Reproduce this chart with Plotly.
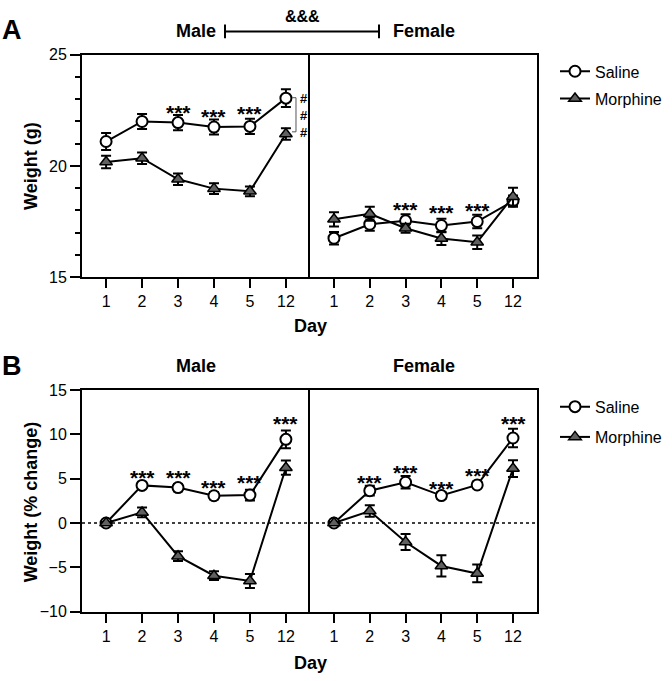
import plotly.graph_objects as go

W, H = 672, 681
FONT = "Liberation Sans, Arial, sans-serif"

days = ["1", "2", "3", "4", "5", "12"]

# ---- Panel A: body weight (g) ----
male_sal_w = [21.1, 22.0, 21.95, 21.75, 21.78, 23.05]
male_sal_w_err = [0.38, 0.34, 0.34, 0.34, 0.34, 0.4]
male_mor_w = [20.18, 20.35, 19.4, 18.98, 18.86, 21.44]
male_mor_w_err = [0.28, 0.26, 0.26, 0.24, 0.22, 0.26]
fem_sal_w = [16.75, 17.38, 17.53, 17.32, 17.5, 18.42]
fem_sal_w_err = [0.28, 0.3, 0.3, 0.3, 0.3, 0.25]
fem_mor_w = [17.6, 17.85, 17.2, 16.74, 16.57, 18.62]
fem_mor_w_err = [0.32, 0.32, 0.2, 0.3, 0.3, 0.4]

# ---- Panel B: weight (% change) ----
male_sal_p = [0.0, 4.25, 4.0, 3.08, 3.15, 9.45]
male_sal_p_err = [0.1, 0.35, 0.4, 0.4, 0.6, 1.0]
male_mor_p = [0.0, 1.2, -3.75, -5.95, -6.55, 6.25]
male_mor_p_err = [0.1, 0.55, 0.55, 0.5, 0.8, 0.8]
fem_sal_p = [0.0, 3.65, 4.6, 3.1, 4.3, 9.6]
fem_sal_p_err = [0.1, 0.55, 0.7, 0.4, 0.35, 1.05]
fem_mor_p = [0.0, 1.35, -2.15, -4.85, -5.7, 6.15]
fem_mor_p_err = [0.1, 0.65, 0.9, 1.2, 1.0, 0.95]

# significance marks (day, height of mark)
stars_A_male_days = ["3", "4", "5"]
stars_A_male_y = [22.64, 22.47, 22.59]
stars_A_fem_days = ["3", "4", "5"]
stars_A_fem_y = [18.26, 18.11, 18.2]
stars_B_male_days = ["2", "3", "4", "5", "12"]
stars_B_male_y = [5.73, 5.73, 4.63, 5.1, 11.78]
stars_B_fem_days = ["2", "3", "4", "5", "12"]
stars_B_fem_y = [5.1, 6.28, 4.44, 5.95, 11.78]


def px(x):
    return x / W


def py(y):
    return 1 - y / H


SAL = dict(symbol="circle", size=11, color="white", line=dict(color="black", width=2))
MOR = dict(symbol="triangle-up", size=11, color="#606060", line=dict(color="black", width=1.5))
LINE = dict(color="black", width=2)

fig = go.Figure()


def add(xa, ya, y, err, marker):
    fig.add_trace(go.Scatter(
        x=days, y=y, xaxis=xa, yaxis=ya, mode="lines+markers",
        line=LINE, marker=marker, showlegend=False,
        error_y=dict(type="data", array=err, visible=True, color="black", thickness=2, width=5),
    ))


add("x", "y", male_sal_w, male_sal_w_err, SAL)
add("x", "y", male_mor_w, male_mor_w_err, MOR)
add("x2", "y2", fem_sal_w, fem_sal_w_err, SAL)
add("x2", "y2", fem_mor_w, fem_mor_w_err, MOR)
add("x3", "y3", male_sal_p, male_sal_p_err, SAL)
add("x3", "y3", male_mor_p, male_mor_p_err, MOR)
add("x4", "y4", fem_sal_p, fem_sal_p_err, SAL)
add("x4", "y4", fem_mor_p, fem_mor_p_err, MOR)

# legend entries: one legend per entry for exact placement
legend_rows = [("legend", "Saline", SAL, 65), ("legend2", "Morphine", MOR, 93),
               ("legend3", "Saline", SAL, 409), ("legend4", "Morphine", MOR, 440)]
for lg, name, mk, _ in legend_rows:
    fig.add_trace(go.Scatter(x=[None], y=[None], xaxis="x", yaxis="y", mode="lines+markers",
                             line=LINE, marker=mk, name=name, legend=lg))

xA1 = [px(82), px(310)]
xA2 = [px(310), px(537)]
yA = [py(276), py(48)]
yB = [py(619), py(392)]

xcommon = dict(type="category", categoryorder="array", categoryarray=days,
               range=[-0.67, 5.67], showline=True, linewidth=2, linecolor="black",
               mirror=True, ticks="outside", ticklen=9, tickwidth=2, tickcolor="black",
               showgrid=False, zeroline=False, tickfont=dict(size=16, color="black"),
               fixedrange=True)
ycommon = dict(showline=True, linewidth=2, linecolor="black",
               showgrid=False, zeroline=False, fixedrange=True,
               tickfont=dict(size=16, color="black"))

layout = dict(
    width=W, height=H, margin=dict(l=0, r=0, t=0, b=0),
    paper_bgcolor="white", plot_bgcolor="white",
    font=dict(family=FONT, color="black"),
    xaxis=dict(domain=xA1, anchor="y", **xcommon),
    xaxis2=dict(domain=xA2, anchor="y2", **xcommon),
    xaxis3=dict(domain=xA1, anchor="y3", **xcommon),
    xaxis4=dict(domain=xA2, anchor="y4", **xcommon),
    yaxis=dict(domain=yA, anchor="x", range=[15, 25], tickvals=[15, 20, 25], mirror=False,
               ticks="outside", ticklen=10, tickwidth=2, tickcolor="black",
               minor=dict(dtick=1, tick0=15, ticks="outside", ticklen=5, tickwidth=2,
                          tickcolor="black"),
               **ycommon),
    yaxis2=dict(domain=yA, anchor="x2", range=[15, 25], showticklabels=False, ticks="",
                mirror=True, **ycommon),
    yaxis3=dict(domain=yB, anchor="x3", range=[-10, 15], tickvals=[-10, -5, 0, 5, 10, 15],
                mirror=False, ticks="outside", ticklen=10, tickwidth=2, tickcolor="black",
                **ycommon),
    yaxis4=dict(domain=yB, anchor="x4", range=[-10, 15], showticklabels=False, ticks="",
                mirror=True, **ycommon),
)
for lg, _, _, yc in legend_rows:
    layout[lg] = dict(x=px(555), y=py(yc), xanchor="left", yanchor="middle",
                      font=dict(size=16, color="black"), bgcolor="rgba(0,0,0,0)",
                      itemwidth=30)
fig.update_layout(**layout)

ann = []


def text(x, y, t, size, bold=True, **kw):
    ann.append(dict(x=px(x), y=py(y), xref="paper", yref="paper",
                    text=("<b>%s</b>" % t) if bold else t,
                    xanchor="center", yanchor="middle",
                    showarrow=False, font=dict(size=size, color="black", family=FONT), **kw))


text(12, 23, "A", 27)
text(12, 367, "B", 27)
text(196, 24, "Male", 18)
text(424, 24, "Female", 18)
text(302, 9, "&&&", 16)
text(196, 367, "Male", 18)
text(424, 367, "Female", 18)
text(310, 326, "Day", 18)
text(310, 672, "Day", 18)
text(31, 162, "Weight (g)", 18, textangle=-90)
text(31, 507, "Weight (% change)", 18, textangle=-90)
text(304, 110, "#<br>#<br>#", 13)

for xa, ya, dd, hh in [("x", "y", stars_A_male_days, stars_A_male_y),
                       ("x2", "y2", stars_A_fem_days, stars_A_fem_y),
                       ("x3", "y3", stars_B_male_days, stars_B_male_y),
                       ("x4", "y4", stars_B_fem_days, stars_B_fem_y)]:
    for d, h in zip(dd, hh):
        ann.append(dict(x=days.index(d), y=h, xref=xa, yref=ya, text="<b>***</b>",
                        showarrow=False, xanchor="center", yanchor="middle",
                        yshift=-5, font=dict(size=21, color="black", family=FONT)))

fig.update_layout(annotations=ann)

shapes = [
    # Male-Female comparison bracket
    dict(type="line", xref="paper", yref="paper", x0=px(225), x1=px(379), y0=py(24), y1=py(24),
         line=dict(color="black", width=2)),
    dict(type="line", xref="paper", yref="paper", x0=px(225), x1=px(225), y0=py(17), y1=py(31),
         line=dict(color="black", width=2)),
    dict(type="line", xref="paper", yref="paper", x0=px(379), x1=px(379), y0=py(17), y1=py(31),
         line=dict(color="black", width=2)),
    # day-12 bracket
    dict(type="path", xref="paper", yref="paper",
         path="M %f %f L %f %f L %f %f L %f %f" % (px(292), py(92), px(296), py(92),
                                                   px(296), py(127), px(292), py(127)),
         line=dict(color="#555555", width=1)),
    # zero reference line (panel B)
    dict(type="line", xref="paper", yref="y3", x0=px(82), x1=px(537), y0=0, y1=0,
         line=dict(color="black", width=1.5, dash="dot"), layer="below"),
]
fig.update_layout(shapes=shapes)

fig.write_html("out.html")
